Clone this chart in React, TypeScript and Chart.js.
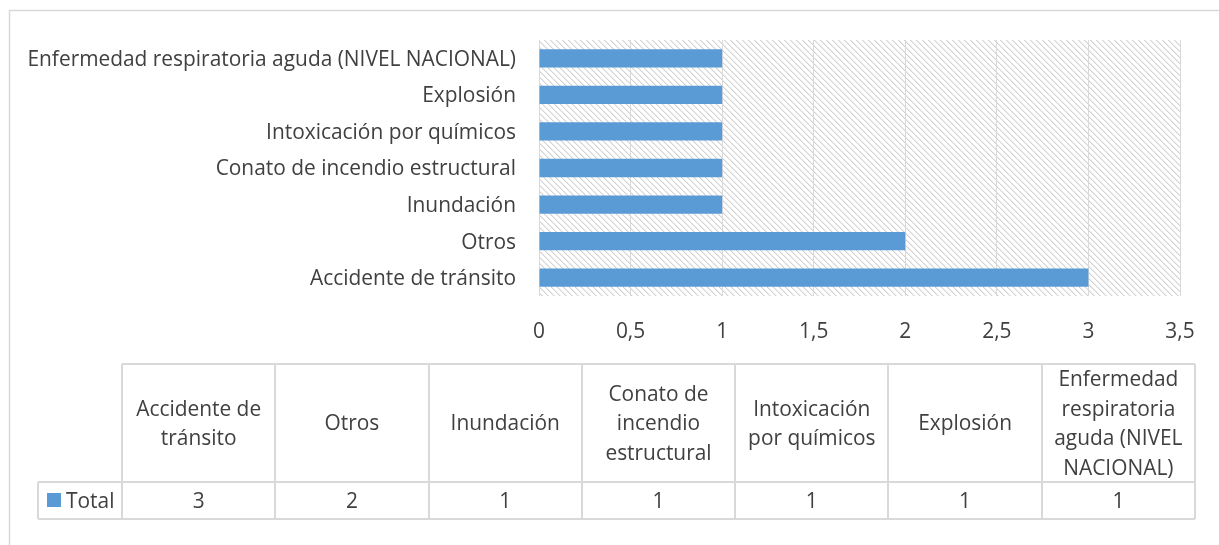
import React, { useEffect, useRef } from "react";
import { Chart, registerables } from "chart.js";

Chart.register(...registerables);

// ---- data ----
const categories = [
  "Accidente de tránsito",
  "Otros",
  "Inundación",
  "Conato de incendio estructural",
  "Intoxicación por químicos",
  "Explosión",
  "Enfermedad respiratoria aguda (NIVEL NACIONAL)",
];
const totals = [3, 2, 1, 1, 1, 1, 1];
const seriesName = "Total";
const xTickValues = [0, 0.5, 1, 1.5, 2, 2.5, 3, 3.5];
const headerLines = [
  ["Accidente de", "tránsito"],
  ["Otros"],
  ["Inundación"],
  ["Conato de", "incendio", "estructural"],
  ["Intoxicación", "por químicos"],
  ["Explosión"],
  ["Enfermedad", "respiratoria", "aguda (NIVEL", "NACIONAL)"],
];

// ---- styles ----
const FONT = "'Open Sans', Lato, sans-serif";
const FONT_SIZE = 20.9;
const TEXT = "#404040";
const BAR = "#5B9BD5";
const GRID = "#d9d9d9";

function makeHatch(): CanvasPattern | string {
  const c = document.createElement("canvas");
  const n = 6;
  c.width = n;
  c.height = n;
  const g = c.getContext("2d");
  if (!g) return "#fff";
  g.fillStyle = "#ffffff";
  g.fillRect(0, 0, n, n);
  for (let i = 0; i < n; i++) {
    g.fillStyle = "#d2d2d2";
    g.fillRect(i, i, 1, 1);
    g.fillStyle = "#ebebeb";
    g.fillRect((i + 1) % n, i, 1, 1);
  }
  const p = g.createPattern(c, "repeat");
  return p || "#fff";
}

const decorPlugin = {
  id: "decor",
  beforeDraw(chart: any) {
    const { ctx, chartArea } = chart;
    ctx.save();
    ctx.strokeStyle = GRID;
    ctx.lineWidth = 1.5;
    ctx.beginPath();
    ctx.moveTo(9.5, chart.height);
    ctx.lineTo(9.5, 10.5);
    ctx.lineTo(chart.width, 10.5);
    ctx.stroke();
    ctx.fillStyle = makeHatch();
    ctx.fillRect(
      chartArea.left,
      chartArea.top,
      chartArea.right - chartArea.left,
      chartArea.bottom - chartArea.top
    );
    ctx.restore();
  },
  afterDraw(chart: any) {
    const { ctx } = chart;
    const legendLeft = 38;
    const tableLeft = 122;
    const tableRight = 1195;
    const top = 364;
    const mid = 482;
    const bottom = 519;
    const n = categories.length;
    const colW = (tableRight - tableLeft) / n;
    ctx.save();
    ctx.strokeStyle = GRID;
    ctx.lineWidth = 2;
    ctx.beginPath();
    ctx.moveTo(tableLeft, top);
    ctx.lineTo(tableRight, top);
    ctx.moveTo(legendLeft, mid);
    ctx.lineTo(tableRight, mid);
    ctx.moveTo(legendLeft, bottom);
    ctx.lineTo(tableRight, bottom);
    ctx.moveTo(legendLeft, mid);
    ctx.lineTo(legendLeft, bottom);
    for (let i = 0; i <= n; i++) {
      const x = Math.round(tableLeft + i * colW);
      ctx.moveTo(x, top);
      ctx.lineTo(x, bottom);
    }
    ctx.stroke();

    ctx.fillStyle = TEXT;
    ctx.font = `${FONT_SIZE}px ${FONT}`;
    ctx.textAlign = "center";
    ctx.textBaseline = "middle";
    const lh = 29.5;
    const hc = (top + mid) / 2 + 1.5;
    const vc = (mid + bottom) / 2 + 1.5;
    for (let i = 0; i < n; i++) {
      const cx = tableLeft + (i + 0.5) * colW;
      const lines = headerLines[i];
      const start = hc - ((lines.length - 1) * lh) / 2;
      lines.forEach((l, j) => ctx.fillText(l, cx, start + j * lh));
      ctx.fillText(String(totals[i]).replace(".", ","), cx, vc);
    }
    ctx.fillStyle = BAR;
    ctx.fillRect(47, 493, 14, 14);
    ctx.fillStyle = TEXT;
    ctx.textAlign = "left";
    ctx.fillText(seriesName, 66, vc);
    ctx.restore();
  },
};

export default function App() {
  const ref = useRef<HTMLCanvasElement | null>(null);
  useEffect(() => {
    if (!ref.current) return;
    const chart = new Chart(ref.current, {
      type: "bar",
      data: {
        labels: categories,
        datasets: [
          {
            label: seriesName,
            data: totals,
            backgroundColor: BAR,
            barPercentage: 0.5,
            categoryPercentage: 1,
          },
        ],
      },
      options: {
        indexAxis: "y",
        animation: false,
        responsive: false,
        layout: { padding: { left: 0, top: 40, right: 39, bottom: 0 } },
        plugins: { legend: { display: false }, tooltip: { enabled: false } },
        scales: {
          x: {
            min: 0,
            max: 3.5,
            afterBuildTicks: (s: any) => {
              s.ticks = xTickValues.map((v) => ({ value: v }));
            },
            afterFit: (s: any) => {
              s.height = 249;
            },
            grid: { color: GRID, lineWidth: 1, drawTicks: false },
            border: { display: false },
            ticks: {
              color: TEXT,
              font: { family: FONT, size: FONT_SIZE },
              padding: 24,
              maxRotation: 0,
              callback: (v: any) => String(v).replace(".", ","),
            },
          },
          y: {
            reverse: true,
            afterFit: (s: any) => {
              s.width = 539;
            },
            grid: { display: false, drawTicks: false },
            border: { display: false },
            ticks: {
              color: TEXT,
              font: { family: FONT, size: FONT_SIZE },
              padding: 23,
              labelOffset: 1.5,
              autoSkip: false,
            },
          },
        },
      },
      plugins: [decorPlugin],
    });
    return () => chart.destroy();
  }, []);
  return (
    <div style={{ position: "fixed", left: 0, top: 0, width: 1219, height: 545, background: "#fff" }}>
      <canvas ref={ref} width={1219} height={545} style={{ display: "block", width: 1219, height: 545 }} />
    </div>
  );
}
